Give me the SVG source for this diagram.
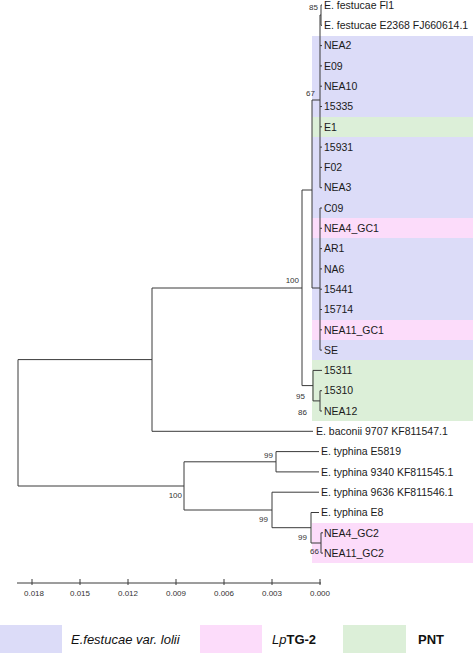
<svg xmlns="http://www.w3.org/2000/svg" width="473" height="655" viewBox="0 0 473 655">
<style>
.bg{fill:#ffffff}
.b{fill:#dcdcf8}
.p{fill:#fcdcfa}
.g{fill:#dcefd8}
.leaf{font-family:"Liberation Sans",Arial,sans-serif;font-size:10.5px;fill:#1a1a1a}
.bs{font-family:"Liberation Sans",Arial,sans-serif;font-size:8px;fill:#333;text-anchor:end}
.ax{font-family:"Liberation Sans",Arial,sans-serif;font-size:8px;fill:#333;text-anchor:middle}
.lg{font-family:"Liberation Sans",Arial,sans-serif;font-size:13px;fill:#111}
.br{fill:none;stroke:#3a3a3a;stroke-width:1}
</style>
<rect class="bg" x="0" y="0" width="473" height="655"/>
<g id="bands">
<rect class="b" x="312" y="36" width="161" height="81"/>
<rect class="g" x="312" y="117" width="161" height="20"/>
<rect class="b" x="312" y="137" width="161" height="81"/>
<rect class="p" x="312" y="218" width="161" height="20"/>
<rect class="b" x="312" y="238" width="161" height="82"/>
<rect class="p" x="312" y="320" width="161" height="20"/>
<rect class="b" x="312" y="340" width="161" height="20"/>
<rect class="g" x="312" y="360" width="161" height="61"/>
<rect class="p" x="312" y="523" width="161" height="40"/>
</g>
<g id="connectors">
<path class="br" d="M152 359.6H18V486H184"/>
<path class="br" d="M152 288V431.3M152 288H302M152 431.3H313"/>
<path class="br" d="M302 190V385.6M302 190H312M302 385.6H313"/>
<path class="br" d="M312 100V288M312 100H320M312 288H320"/>
<path class="br" d="M320 15V187.7M320 15H321M321 5V25.3M321 5H322M321 25.3H322"/>
<path class="br" d="M320 45.6H322M320 65.9H322M320 86.2H322M320 106.5H322M320 126.8H322M320 147.1H322M320 167.4H322M320 187.7H322"/>
<path class="br" d="M320 208V350.1M320 208H322M320 228.3H322M320 248.6H322M320 268.9H322M320 289.2H322M320 309.5H322M320 329.8H322M320 350.1H322"/>
<path class="br" d="M313 370.4V400.9M313 370.4H322M313 400.9H320M320 390.7V411M320 390.7H322M320 411H322"/>
<path class="br" d="M184 461.8V510M184 461.8H276M184 510H272"/>
<path class="br" d="M276 451.6V471.9M276 451.6H319M276 471.9H319"/>
<path class="br" d="M272 492.2V527.7M272 492.2H319M272 527.7H311"/>
<path class="br" d="M311 512.5V543M311 512.5H319M311 543H321M321 532.8V553.1M321 532.8H323M321 553.1H323"/>
</g>
<g id="leaves">
<text class="leaf" x="324" y="8.7">E. festucae Fl1</text>
<text class="leaf" x="324" y="29">E. festucae E2368 FJ660614.1</text>
<text class="leaf" x="324" y="49.3">NEA2</text>
<text class="leaf" x="324" y="69.6">E09</text>
<text class="leaf" x="324" y="89.9">NEA10</text>
<text class="leaf" x="324" y="110.2">15335</text>
<text class="leaf" x="324" y="130.5">E1</text>
<text class="leaf" x="324" y="150.8">15931</text>
<text class="leaf" x="324" y="171.1">F02</text>
<text class="leaf" x="324" y="191.4">NEA3</text>
<text class="leaf" x="324" y="211.7">C09</text>
<text class="leaf" x="324" y="232">NEA4_GC1</text>
<text class="leaf" x="324" y="252.3">AR1</text>
<text class="leaf" x="324" y="272.6">NA6</text>
<text class="leaf" x="324" y="292.9">15441</text>
<text class="leaf" x="324" y="313.2">15714</text>
<text class="leaf" x="324" y="333.5">NEA11_GC1</text>
<text class="leaf" x="324" y="353.8">SE</text>
<text class="leaf" x="324" y="374.1">15311</text>
<text class="leaf" x="324" y="394.4">15310</text>
<text class="leaf" x="324" y="414.7">NEA12</text>
<text class="leaf" x="316" y="435">E. baconii 9707 KF811547.1</text>
<text class="leaf" x="321" y="455.3">E. typhina E5819</text>
<text class="leaf" x="321" y="475.6">E. typhina 9340 KF811545.1</text>
<text class="leaf" x="321" y="495.9">E. typhina 9636 KF811546.1</text>
<text class="leaf" x="321" y="516.2">E. typhina E8</text>
<text class="leaf" x="324" y="536.5">NEA4_GC2</text>
<text class="leaf" x="324" y="556.8">NEA11_GC2</text>
</g>
<g id="bootstrap">
<text class="bs" x="318" y="10">85</text>
<text class="bs" x="315" y="96">67</text>
<text class="bs" x="299" y="283">100</text>
<text class="bs" x="305" y="399">95</text>
<text class="bs" x="307" y="415">86</text>
<text class="bs" x="182" y="498">100</text>
<text class="bs" x="273" y="458">99</text>
<text class="bs" x="268" y="522">99</text>
<text class="bs" x="307" y="540">99</text>
<text class="bs" x="319" y="554">66</text>
</g>
<g id="axis">
<path class="br" d="M17 583H321M32 579V585M80 579V585M128 579V585M176 579V585M224 579V585M272 579V585M320 579V585"/>
<text class="ax" x="34" y="596">0.018</text>
<text class="ax" x="80" y="596">0.015</text>
<text class="ax" x="128" y="596">0.012</text>
<text class="ax" x="176" y="596">0.009</text>
<text class="ax" x="224" y="596">0.006</text>
<text class="ax" x="272" y="596">0.003</text>
<text class="ax" x="320" y="596">0.000</text>
</g>
<g id="legend">
<rect class="b" x="0" y="625" width="62" height="28"/>
<text class="lg" x="71" y="644" font-style="italic">E.festucae var. lolii</text>
<rect class="p" x="200" y="625" width="62" height="28"/>
<text class="lg" x="272" y="644"><tspan font-style="italic">Lp</tspan><tspan font-weight="bold">TG-2</tspan></text>
<rect class="g" x="343" y="625" width="63" height="28"/>
<text class="lg" x="418" y="644" font-weight="bold">PNT</text>
</g>
</svg>
